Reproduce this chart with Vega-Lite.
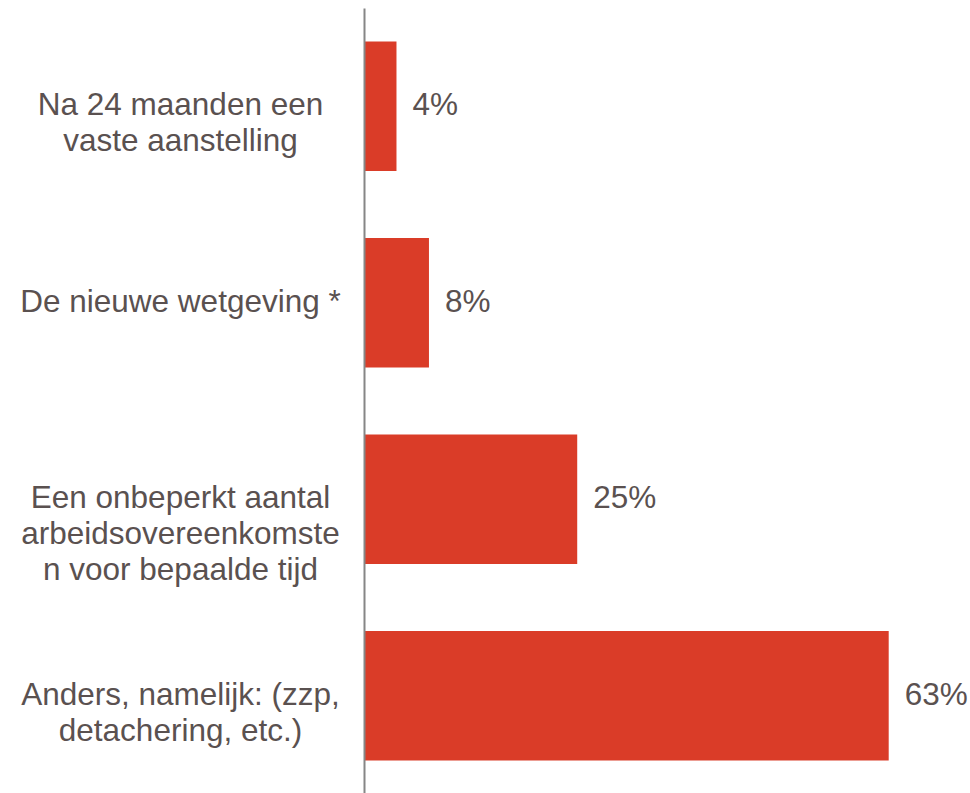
{
  "$schema": "https://vega.github.io/schema/vega-lite/v6.json",
  "autosize": "none",
  "width": 583,
  "height": 786,
  "padding": {"left": 364, "top": 8, "right": 23, "bottom": 0},
  "background": "white",
  "config": {"view": {"stroke": null}, "font": "Liberation Sans"},
  "data": {
    "values": [
      {"category": "Na 24 maanden een|vaste aanstelling", "value": 3.9, "label": "4%"},
      {"category": "De nieuwe wetgeving *", "value": 7.8, "label": "8%"},
      {"category": "Een onbeperkt aantal|arbeidsovereenkomste|n voor bepaalde tijd", "value": 25.6, "label": "25%"},
      {"category": "Anders, namelijk: (zzp,|detachering, etc.)", "value": 63.0, "label": "63%"}
    ]
  },
  "encoding": {
    "y": {
      "field": "category",
      "type": "nominal",
      "sort": null,
      "scale": {"paddingInner": 0.34, "paddingOuter": 0.17},
      "axis": {
        "title": null,
        "ticks": false,
        "tickSize": 0,
        "domainColor": "#868686",
        "domainWidth": 2,
        "labelExpr": "split(datum.label, '|')",
        "labelAlign": "center",
        "labelBaseline": "middle",
        "labelPadding": 184,
        "labelFontSize": 31.5,
        "labelLineHeight": 36,
        "labelColor": "#5A5150",
        "labelFont": "Liberation Sans",
        "labelLimit": 400,
        "zindex": 1
      }
    },
    "x": {
      "field": "value",
      "type": "quantitative",
      "scale": {"domain": [0, 70]},
      "axis": null
    }
  },
  "layer": [
    {"mark": {"type": "bar", "color": "#DA3C28"}},
    {
      "mark": {"type": "text", "align": "left", "baseline": "middle", "dx": 16, "fontSize": 31.5, "color": "#5A5150", "font": "Liberation Sans"},
      "encoding": {"text": {"field": "label"}}
    }
  ]
}
